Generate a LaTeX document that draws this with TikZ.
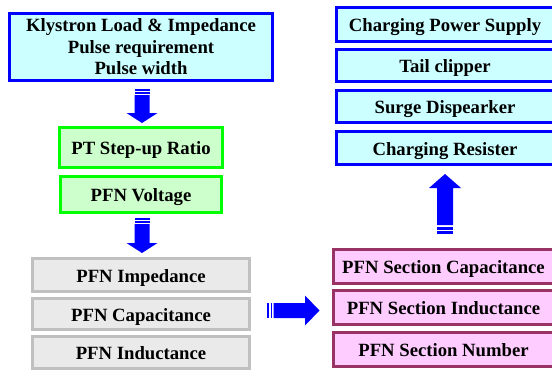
\documentclass[tikz,border=0pt]{standalone}
\usepackage{fontspec}
\setmainfont{Liberation Serif}[BoldFont={Liberation Serif Bold}]
\newfontfamily\tnrb{Liberation Serif Bold}
\definecolor{bbord}{HTML}{0000FF}
\definecolor{bfill}{HTML}{CCFFFF}
\definecolor{gbord}{HTML}{00FF00}
\definecolor{gfill}{HTML}{CCFFCC}
\definecolor{ybord}{HTML}{C0C0C0}
\definecolor{yfill}{HTML}{EAEAEA}
\definecolor{mbord}{HTML}{993366}
\definecolor{mfill}{HTML}{FFCCFF}
\definecolor{arr}{HTML}{0000FF}
\tikzset{
  box/.style={rectangle, draw, line width=3bp, inner sep=0pt, align=center,
    font=\fontsize{18.7bp}{21.5bp}\tnrb},
  oneline/.style={text height=18bp, text depth=4bp},
  bluebox/.style={box, draw=bbord, fill=bfill},
  greenbox/.style={box, oneline, draw=gbord, fill=gfill},
  graybox/.style={box, oneline, draw=ybord, fill=yfill},
  magbox/.style={box, oneline, draw=mbord, fill=mfill},
  arrowfill/.style={fill=arr, draw=none},
}
\begin{document}
\begin{tikzpicture}[x=1bp,y=-1bp]
\useasboundingbox (0,0) rectangle (552,369);
% left column
\node[bluebox, minimum width=263bp, minimum height=67bp] (klys) at (141,47)
  {Klystron Load \& Impedance\\Pulse requirement\\Pulse width};
\node[greenbox, minimum width=163bp, minimum height=40bp] (pt) at (141,147.5) {PT Step-up Ratio};
\node[greenbox, minimum width=161bp, minimum height=36bp] (pfnv) at (141,194.5) {PFN Voltage};
\node[graybox, minimum width=217bp, minimum height=33bp] (imp) at (141,275) {PFN Impedance};
\node[graybox, minimum width=217bp, minimum height=31bp] (cap) at (141,314) {PFN Capacitance};
\node[graybox, minimum width=217bp, minimum height=32bp] (ind) at (141,352.5) {PFN Inductance};
% right column
\node[bluebox, oneline, minimum width=217bp, minimum height=34bp] (cps) at (445,24.5) {Charging Power Supply};
\node[bluebox, oneline, minimum width=217bp, minimum height=32bp] (tail) at (445,65.5) {Tail clipper};
\node[bluebox, oneline, minimum width=217bp, minimum height=32bp] (surge) at (445,106.5) {Surge Dispearker};
\node[bluebox, oneline, minimum width=217bp, minimum height=33bp] (cres) at (445,148) {Charging Resister};
\node[magbox, minimum width=220bp, minimum height=34bp] (scap) at (443.5,266.5) {PFN Section Capacitance};
\node[magbox, minimum width=220bp, minimum height=34bp] (sind) at (443.5,307.5) {PFN Section Inductance};
\node[magbox, minimum width=220bp, minimum height=34bp] (snum) at (443.5,349.5) {PFN Section Number};
% down arrow 1
\fill[arrowfill] (134.5,89) rectangle (149.5,91);
\fill[arrowfill] (134.5,92) rectangle (149.5,94);
\fill[arrowfill] (134.5,95) -- (149.5,95) -- (149.5,113) -- (157.5,113) -- (142,123)
  -- (126.5,113) -- (134.5,113) -- cycle;
% down arrow 2
\fill[arrowfill] (134.5,218) rectangle (149.5,220);
\fill[arrowfill] (134.5,221) rectangle (149.5,223);
\fill[arrowfill] (134.5,224) -- (149.5,224) -- (149.5,243) -- (157.5,243) -- (142,253)
  -- (126.5,243) -- (134.5,243) -- cycle;
% right arrow
\fill[arrowfill] (267,303) rectangle (269,318);
\fill[arrowfill] (270.5,303) rectangle (272,318);
\fill[arrowfill] (273.5,303) -- (305,303) -- (305,295.5) -- (319.5,310.5) -- (305,325.5)
  -- (305,318) -- (273.5,318) -- cycle;
% up arrow
\fill[arrowfill] (437,225) -- (437,188) -- (429,188) -- (445,174) -- (461,188)
  -- (453,188) -- (453,225) -- cycle;
\fill[arrowfill] (437,227) rectangle (453,229.5);
\fill[arrowfill] (437,231) rectangle (453,234);
\end{tikzpicture}
\end{document}
